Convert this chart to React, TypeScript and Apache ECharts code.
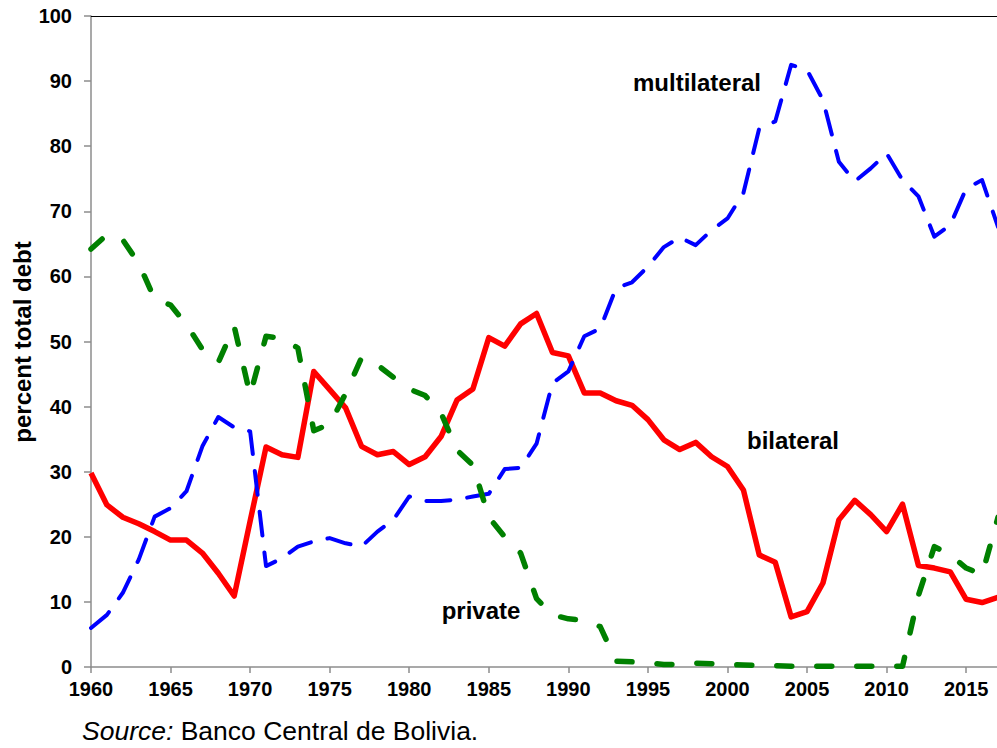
import React, { useEffect, useRef } from "react";
import * as echarts from "echarts";

const years = [
  1960, 1961, 1962, 1963, 1964, 1965, 1966, 1967, 1968, 1969,
  1970, 1971, 1972, 1973, 1974, 1975, 1976, 1977, 1978, 1979,
  1980, 1981, 1982, 1983, 1984, 1985, 1986, 1987, 1988, 1989,
  1990, 1991, 1992, 1993, 1994, 1995, 1996, 1997, 1998, 1999,
  2000, 2001, 2002, 2003, 2004, 2005, 2006, 2007, 2008, 2009,
  2010, 2011, 2012, 2013, 2014, 2015, 2016, 2017,
];

const bilateral = [
  29.8, 24.9, 23.0, 22.0, 20.8, 19.5, 19.5, 17.5, 14.4, 10.9,
  22.4, 33.8, 32.6, 32.2, 45.4, 42.6, 39.8, 33.9, 32.6, 33.1,
  31.1, 32.3, 35.4, 41.0, 42.7, 50.6, 49.3, 52.7, 54.3, 48.3,
  47.8, 42.1, 42.1, 40.9, 40.2, 38.0, 34.9, 33.4, 34.5, 32.3,
  30.8, 27.2, 17.2, 16.1, 7.7, 8.5, 12.9, 22.6, 25.6, 23.4,
  20.8, 25.0, 15.6, 15.2, 14.6, 10.4, 9.9, 10.7,
];

const multilateral = [
  6.0, 8.0, 11.4, 16.5, 23.1, 24.4, 27.0, 33.9, 38.4, 36.8,
  36.2, 15.5, 16.7, 18.5, 19.3, 19.8, 19.0, 18.5, 20.8, 22.6,
  26.2, 25.5, 25.5, 25.7, 26.2, 26.6, 30.4, 30.6, 34.3, 43.6,
  45.4, 50.8, 52.0, 58.2, 59.1, 61.5, 64.5, 66.0, 64.8, 67.1,
  68.9, 72.8, 82.8, 83.8, 92.5, 91.7, 87.1, 77.6, 74.6, 76.6,
  78.9, 74.8, 72.3, 66.1, 67.9, 73.5, 74.8, 67.6,
];

const privateDebt = [
  64.2, 66.4, 65.6, 62.0, 56.5, 55.6, 52.6, 48.8, 46.8, 52.3,
  41.8, 50.8, 50.5, 49.0, 36.3, 37.3, 42.0, 47.5, 46.4, 44.5,
  42.7, 41.7, 39.0, 33.3, 31.0, 23.0, 20.0, 17.5, 10.5, 8.0,
  7.4, 7.2, 6.2, 0.9, 0.8, 0.6, 0.4, 0.4, 0.6, 0.5,
  0.4, 0.3, 0.25, 0.2, 0.1, 0.1, 0.1, 0.1, 0.1, 0.1,
  0.1, 0.1, 11.0, 18.5, 17.2, 15.2, 14.2, 23.0,
];

const seriesNames = ["bilateral", "multilateral", "private"];
const yTitle = "percent total debt";
const sourceLabel = "Source:";
const sourceText = " Banco Central de Bolivia.";

const FONT = '"Liberation Sans", Arial, Helvetica, sans-serif';
const AXIS_GRAY = "#8c8c8c";

export default function App() {
  const ref = useRef<HTMLDivElement>(null);

  useEffect(() => {
    if (!ref.current) return;
    const chart = echarts.init(ref.current, null, { renderer: "svg" });
    const pair = (vals: number[]) => years.map((y, i) => [y, vals[i]]);

    chart.setOption({
      animation: false,
      backgroundColor: "#ffffff",
      grid: { left: 91, top: 16, right: 2, bottom: 81, containLabel: false },
      xAxis: [
        {
          type: "value",
          min: 1960,
          max: 2017,
          interval: 5,
          axisLine: { show: true, lineStyle: { color: AXIS_GRAY, width: 1.5 } },
          axisTick: { show: true, length: 6, lineStyle: { color: AXIS_GRAY, width: 1.5 } },
          axisLabel: {
            show: true,
            showMaxLabel: false,
            margin: 12,
            color: "#000",
            fontFamily: FONT,
            fontWeight: "bold",
            fontSize: 20,
            formatter: (v: number) => (v % 5 === 0 ? String(v) : ""),
          },
          splitLine: { show: false },
        },
        {
          type: "value",
          position: "top",
          min: 1960,
          max: 2017,
          axisLine: { show: true, lineStyle: { color: "#000", width: 1.2 } },
          axisTick: { show: false },
          axisLabel: { show: false },
          splitLine: { show: false },
        },
      ],
      yAxis: {
        type: "value",
        min: 0,
        max: 100,
        interval: 10,
        axisLine: { show: true, lineStyle: { color: AXIS_GRAY, width: 1.5 } },
        axisTick: { show: true, length: 7, lineStyle: { color: AXIS_GRAY, width: 1.5 } },
        axisLabel: {
          margin: 19,
          color: "#000",
          fontFamily: FONT,
          fontWeight: "bold",
          fontSize: 20,
        },
        splitLine: { show: false },
      },
      series: [
        {
          name: seriesNames[0],
          type: "line",
          data: pair(bilateral),
          showSymbol: false,
          symbol: "none",
          lineStyle: { color: "#ff0000", width: 5.5, type: "solid", join: "round" },
          z: 2,
        },
        {
          name: seriesNames[1],
          type: "line",
          data: pair(multilateral),
          showSymbol: false,
          symbol: "none",
          lineStyle: { color: "#0000ff", width: 4, type: [24, 17], cap: "round", join: "round" },
          z: 3,
        },
        {
          name: seriesNames[2],
          type: "line",
          data: pair(privateDebt),
          showSymbol: false,
          symbol: "none",
          lineStyle: { color: "#008000", width: 5.5, type: [15, 25], cap: "round", join: "round" },
          z: 4,
        },
      ],
      graphic: [
        {
          type: "text",
          x: 22,
          y: 342,
          rotation: Math.PI / 2,
          style: {
            text: yTitle,
            fontFamily: FONT,
            fontWeight: "bold",
            fontSize: 24,
            fill: "#000",
            align: "center",
            verticalAlign: "middle",
          },
        },
        {
          type: "text",
          x: 697,
          y: 82,
          style: {
            text: seriesNames[1],
            fontFamily: FONT,
            fontWeight: "bold",
            fontSize: 24,
            fill: "#000",
            align: "center",
            verticalAlign: "middle",
          },
        },
        {
          type: "text",
          x: 793,
          y: 440,
          style: {
            text: seriesNames[0],
            fontFamily: FONT,
            fontWeight: "bold",
            fontSize: 24,
            fill: "#000",
            align: "center",
            verticalAlign: "middle",
          },
        },
        {
          type: "text",
          x: 481,
          y: 610,
          style: {
            text: seriesNames[2],
            fontFamily: FONT,
            fontWeight: "bold",
            fontSize: 24,
            fill: "#000",
            align: "center",
            verticalAlign: "middle",
          },
        },
        {
          type: "text",
          x: 82,
          y: 731,
          style: {
            text: "{i|" + sourceLabel + "}" + sourceText,
            fontFamily: FONT,
            fontSize: 26.5,
            fill: "#000",
            align: "left",
            verticalAlign: "middle",
            rich: {
              i: { fontFamily: FONT, fontSize: 26.5, fontStyle: "italic", fill: "#000" },
            },
          },
        },
      ],
    });

    return () => chart.dispose();
  }, []);

  return (
    <div
      style={{
        position: "absolute",
        left: 0,
        top: 0,
        width: 997,
        height: 748,
        overflow: "hidden",
        background: "#fff",
      }}
    >
      <div ref={ref} style={{ width: 1000, height: 748 }} />
    </div>
  );
}
